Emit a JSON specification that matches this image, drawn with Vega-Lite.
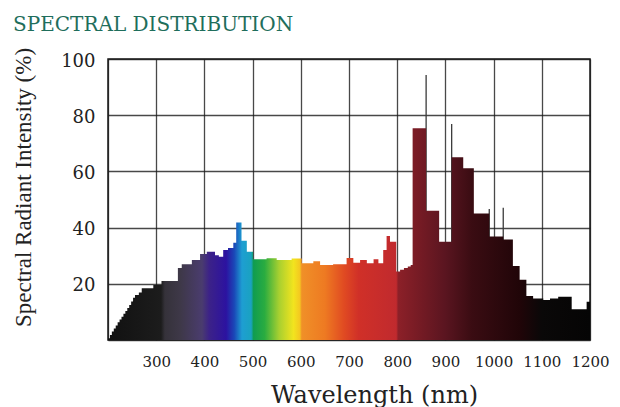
{
  "$schema": "https://vega.github.io/schema/vega-lite/v6.json",
  "width": 482,
  "height": 281,
  "autosize": {"type": "none"},
  "padding": {"left": 108, "top": 59, "right": 30, "bottom": 67},
  "background": "white",
  "title": {
    "text": "SPECTRAL DISTRIBUTION",
    "anchor": "start",
    "frame": "group",
    "dx": -95,
    "dy": 32,
    "offset": 28,
    "baseline": "alphabetic",
    "font": "DejaVu Serif",
    "fontSize": 20,
    "fontWeight": "normal",
    "color": "#1f6e5c"
  },
  "config": {
    "view": {"stroke": "#1a1a1a", "strokeWidth": 1.5},
    "axis": {
      "grid": true,
      "gridColor": "#1a1a1a",
      "gridWidth": 1.3,
      "gridOpacity": 0.8,
      "ticks": false,
      "domain": false,
      "zindex": 1,
      "labelOverlap": false,
      "labelFlush": false,
      "labelFont": "DejaVu Serif",
      "labelColor": "#222222",
      "titleFont": "DejaVu Serif",
      "titleColor": "#222222",
      "titleFontWeight": "normal"
    }
  },
  "datasets": {
    "spectrum": [
      {"nm": 200, "value": 0.6},
      {"nm": 204, "value": 1.8},
      {"nm": 208, "value": 3.0},
      {"nm": 212, "value": 4.1},
      {"nm": 216, "value": 5.2},
      {"nm": 220, "value": 6.3},
      {"nm": 224, "value": 7.3},
      {"nm": 228, "value": 8.3},
      {"nm": 232, "value": 9.3},
      {"nm": 236, "value": 10.3},
      {"nm": 240, "value": 11.4},
      {"nm": 244, "value": 12.5},
      {"nm": 248, "value": 13.7},
      {"nm": 252, "value": 15.0},
      {"nm": 256, "value": 16.0},
      {"nm": 264, "value": 16.9},
      {"nm": 270, "value": 18.4},
      {"nm": 294, "value": 19.6},
      {"nm": 311, "value": 21.0},
      {"nm": 345, "value": 25.6},
      {"nm": 353, "value": 27.0},
      {"nm": 374, "value": 28.5},
      {"nm": 391, "value": 30.6},
      {"nm": 405, "value": 31.4},
      {"nm": 422, "value": 30.2},
      {"nm": 430, "value": 29.6},
      {"nm": 439, "value": 32.0},
      {"nm": 449, "value": 32.7},
      {"nm": 460, "value": 34.6},
      {"nm": 466, "value": 41.8},
      {"nm": 477, "value": 35.3},
      {"nm": 488, "value": 31.4},
      {"nm": 501, "value": 28.7},
      {"nm": 529, "value": 29.1},
      {"nm": 550, "value": 28.5},
      {"nm": 581, "value": 29.0},
      {"nm": 602, "value": 27.3},
      {"nm": 626, "value": 28.0},
      {"nm": 640, "value": 26.7},
      {"nm": 667, "value": 27.0},
      {"nm": 695, "value": 29.2},
      {"nm": 709, "value": 27.5},
      {"nm": 723, "value": 28.5},
      {"nm": 737, "value": 27.3},
      {"nm": 751, "value": 28.7},
      {"nm": 761, "value": 27.3},
      {"nm": 771, "value": 32.0},
      {"nm": 778, "value": 37.0},
      {"nm": 785, "value": 35.0},
      {"nm": 798, "value": 24.4},
      {"nm": 806, "value": 25.0},
      {"nm": 814, "value": 25.6},
      {"nm": 822, "value": 26.2},
      {"nm": 828, "value": 26.7},
      {"nm": 832, "value": 75.4},
      {"nm": 860, "value": 46.0},
      {"nm": 887, "value": 35.0},
      {"nm": 913, "value": 65.0},
      {"nm": 937, "value": 61.1},
      {"nm": 959, "value": 45.0},
      {"nm": 991, "value": 36.8},
      {"nm": 1020, "value": 35.8},
      {"nm": 1040, "value": 26.3},
      {"nm": 1054, "value": 21.4},
      {"nm": 1068, "value": 15.7},
      {"nm": 1082, "value": 14.8},
      {"nm": 1103, "value": 14.2},
      {"nm": 1117, "value": 14.8},
      {"nm": 1134, "value": 15.4},
      {"nm": 1162, "value": 10.9},
      {"nm": 1193, "value": 13.6},
      {"nm": 1200, "value": 13.6}
    ],
    "emissionLines": [
      {"nm": 860, "value": 94.3},
      {"nm": 913, "value": 76.9},
      {"nm": 991, "value": 46.6},
      {"nm": 1020, "value": 47.1}
    ]
  },
  "layer": [
    {
      "data": {"name": "emissionLines"},
      "mark": {"type": "rule", "color": "#3a3a3a", "strokeWidth": 1.3},
      "encoding": {
        "x": {"field": "nm", "type": "quantitative"},
        "y": {"field": "value", "type": "quantitative"},
        "y2": {"datum": 0}
      }
    },
    {
      "data": {"name": "spectrum"},
      "mark": {
        "type": "area",
        "interpolate": "step-after",
        "color": {
          "gradient": "linear",
          "x1": 0, "y1": 0, "x2": 1, "y2": 0,
          "stops": [
            {"offset": 0.0, "color": "#111111"},
            {"offset": 0.11, "color": "#1c1c1c"},
            {"offset": 0.118, "color": "#35323a"},
            {"offset": 0.15, "color": "#3e3848"},
            {"offset": 0.195, "color": "#4a3c6e"},
            {"offset": 0.21, "color": "#3c2288"},
            {"offset": 0.245, "color": "#2c12a0"},
            {"offset": 0.262, "color": "#1a48b8"},
            {"offset": 0.278, "color": "#1e9ed2"},
            {"offset": 0.297, "color": "#1aa2c0"},
            {"offset": 0.302, "color": "#109c50"},
            {"offset": 0.325, "color": "#2aac40"},
            {"offset": 0.355, "color": "#a8d030"},
            {"offset": 0.385, "color": "#f2e41e"},
            {"offset": 0.398, "color": "#f4c820"},
            {"offset": 0.402, "color": "#f09028"},
            {"offset": 0.45, "color": "#ee7a22"},
            {"offset": 0.49, "color": "#e04a22"},
            {"offset": 0.52, "color": "#d03028"},
            {"offset": 0.598, "color": "#c02a2e"},
            {"offset": 0.602, "color": "#8c2028"},
            {"offset": 0.7, "color": "#5a1520"},
            {"offset": 0.755, "color": "#3a0c12"},
            {"offset": 0.855, "color": "#200508"},
            {"offset": 0.9, "color": "#0a0808"},
            {"offset": 1.0, "color": "#050505"}
          ]
        }
      },
      "encoding": {
        "x": {
          "field": "nm",
          "type": "quantitative",
          "scale": {"domain": [200, 1200], "nice": false, "zero": false},
          "axis": {
            "values": [200, 300, 400, 500, 600, 700, 800, 900, 1000, 1100, 1200],
            "labelExpr": "datum.value == 200 ? '' : datum.label",
            "format": "d",
            "labelFontSize": 15,
            "labelPadding": 14,
            "title": "Wavelength (nm)",
            "titleFontSize": 24,
            "titleX": 266,
            "titleY": 62,
            "titleAlign": "center",
            "titleBaseline": "alphabetic"
          }
        },
        "y": {
          "field": "value",
          "type": "quantitative",
          "scale": {"domain": [0, 100], "nice": false},
          "axis": {
            "values": [0, 20, 40, 60, 80, 100],
            "labelExpr": "datum.value == 0 ? '' : datum.label",
            "labelFontSize": 18,
            "labelPadding": 13,
            "labelOffset": 2,
            "title": "Spectral Radiant Intensity (%)",
            "titleFont": "Liberation Serif",
            "titleFontSize": 23,
            "titleAngle": 270,
            "titleX": -78,
            "titleY": 128,
            "titleAlign": "center",
            "titleBaseline": "alphabetic"
          }
        }
      }
    }
  ]
}
